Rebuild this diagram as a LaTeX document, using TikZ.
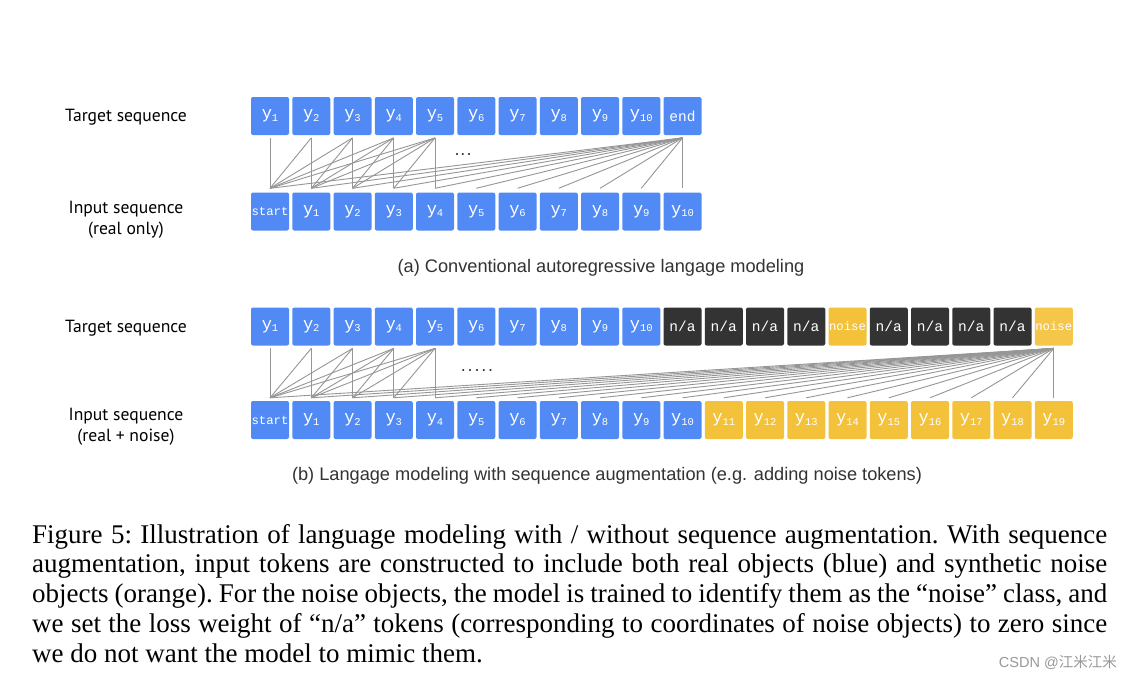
\documentclass[tikz,border=0pt]{standalone}
\usepackage{fontspec}
\setmainfont{Liberation Serif}
\newfontfamily\labfont{PT Sans}
\newfontfamily\capfont{Liberation Sans}
\newfontfamily\monofont{Liberation Mono}
\newfontfamily\cjk{Noto Sans CJK SC}
\definecolor{tblue}{RGB}{82,138,245}
\definecolor{tdark}{RGB}{51,51,51}
\definecolor{tyel}{RGB}{243,193,58}
\definecolor{lgray}{RGB}{150,150,150}
\newcommand{\yy}[1]{{\fontsize{17}{18}\monofont y}\raisebox{-2.5pt}{\fontsize{10.5}{12}\monofont #1}}
\newcommand{\tokword}[1]{{\fontsize{14.5}{16}\monofont #1}}
\newcommand{\smallword}[1]{{\fontsize{12.3}{14}\monofont #1}}
\tikzset{
  tok/.style={rectangle, rounded corners=2pt, minimum width=38pt, minimum height=38pt, inner sep=0pt, text=white, draw=none},
  conn/.style={draw=lgray, line width=0.9pt},
  lab/.style={font=\labfont\fontsize{17.6}{21.5}\selectfont, align=center, text=black},
  subcap/.style={font=\capfont\fontsize{18.2}{20}\selectfont, text=black!80},
  dots/.style={font=\capfont\fontsize{18}{20}\selectfont, text=black!80},
}
\begin{document}
\begin{tikzpicture}[x=1pt,y=-1pt]
\path[fill=white] (0,0) rectangle (1132,680);
\useasboundingbox (0,0) rectangle (1132,680);

% ---------- (a) ----------
\node[lab] (la1) at (126,117) {Target sequence};
\node[lab] (la2) at (126,220) {Input sequence\\(real only)};

\foreach \p [evaluate=\p as \k using int(\p+1)] in {0,...,9}
  \node[tok,fill=tblue] (ta\p) at ({270+\p*41.25},116) {\yy{\k}};
\node[tok,fill=tblue] (ta10) at ({270+10*41.25},116) {\tokword{end}};

\node[tok,fill=tblue] (ia0) at (270,211.5) {\smallword{start}};
\foreach \p in {1,...,10}
  \node[tok,fill=tblue] (ia\p) at ({270+\p*41.25},211.5) {\yy{\p}};

\foreach \p in {0,...,10} {
  \coordinate (tac\p) at ([yshift=-2.7pt]ta\p.south);
  \coordinate (iac\p) at ([yshift=4pt]ia\p.north);
}
\foreach \t in {0,...,4}
  \foreach \s in {0,...,\t}
    \draw[conn] (tac\t) -- (iac\s);
\foreach \s in {0,...,10}
  \draw[conn] (tac10) -- (iac\s);

\node[dots] (dotsa) at (463,155) {.\kern1pt.\kern1pt.};
\node[subcap] (capa) at (601,268) {(a) Conventional autoregressive langage modeling};

% ---------- (b) ----------
\node[lab] (lb1) at (126,328) {Target sequence};
\node[lab] (lb2) at (126,427) {Input sequence\\(real + noise)};

\foreach \p [evaluate=\p as \k using int(\p+1)] in {0,...,9}
  \node[tok,fill=tblue] (tb\p) at ({270+\p*41.25},326.5) {\yy{\k}};
\foreach \p in {10,11,12,13,15,16,17,18}
  \node[tok,fill=tdark] (tb\p) at ({270+\p*41.25},326.5) {\tokword{n/a}};
\node[tok,fill=tyel] (tb14) at ({270+14*41.25},326.5) {\smallword{noise}};
\node[tok,fill=tyel!92!white] (tb19) at ({270+19*41.25},326.5) {\smallword{noise}};

\node[tok,fill=tblue] (ib0) at (270,420) {\smallword{start}};
\foreach \p in {1,...,10}
  \node[tok,fill=tblue] (ib\p) at ({270+\p*41.25},420) {\yy{\p}};
\foreach \p in {11,...,19}
  \node[tok,fill=tyel] (ib\p) at ({270+\p*41.25},420) {\yy{\p}};

\foreach \p in {0,...,19} {
  \coordinate (tbc\p) at ([yshift=-2.7pt]tb\p.south);
  \coordinate (ibc\p) at ([yshift=3pt]ib\p.north);
}
\foreach \t in {0,...,4}
  \foreach \s in {0,...,\t}
    \draw[conn] (tbc\t) -- (ibc\s);
\foreach \s in {0,...,19}
  \draw[conn] (tbc19) -- (ibc\s);

\node[dots] (dotsb) at (477,371) {.\kern1.8pt.\kern1.8pt.\kern1.8pt.\kern1.8pt.};
\node[subcap] (capb) at (607,476) {(b) Langage modeling with sequence augmentation (e.g. adding noise tokens)};

% ---------- caption ----------
\node[anchor=north west, inner sep=0pt, text width=1075pt, align=justify,
      font=\fontsize{27}{29.7}\selectfont\frenchspacing] (fig) at (32,524)
{Figure 5: Illustration of language modeling with / without sequence augmentation. With sequence\linebreak
augmentation, input tokens are constructed to include both real objects (blue) and synthetic noise\linebreak
objects (orange). For the noise objects, the model is trained to identify them as the “noise” class, and\linebreak
we set the loss weight of “n/a” tokens (corresponding to coordinates of noise objects) to zero since\linebreak
we do not want the model to mimic them.};

\node[anchor=east, inner sep=0pt, text=black!40] (wm) at (1117,662)
  {{\capfont\fontsize{14.5}{16}\selectfont CSDN @}{\cjk\fontsize{14.5}{16}\selectfont 江米江米}};
\end{tikzpicture}
\end{document}
